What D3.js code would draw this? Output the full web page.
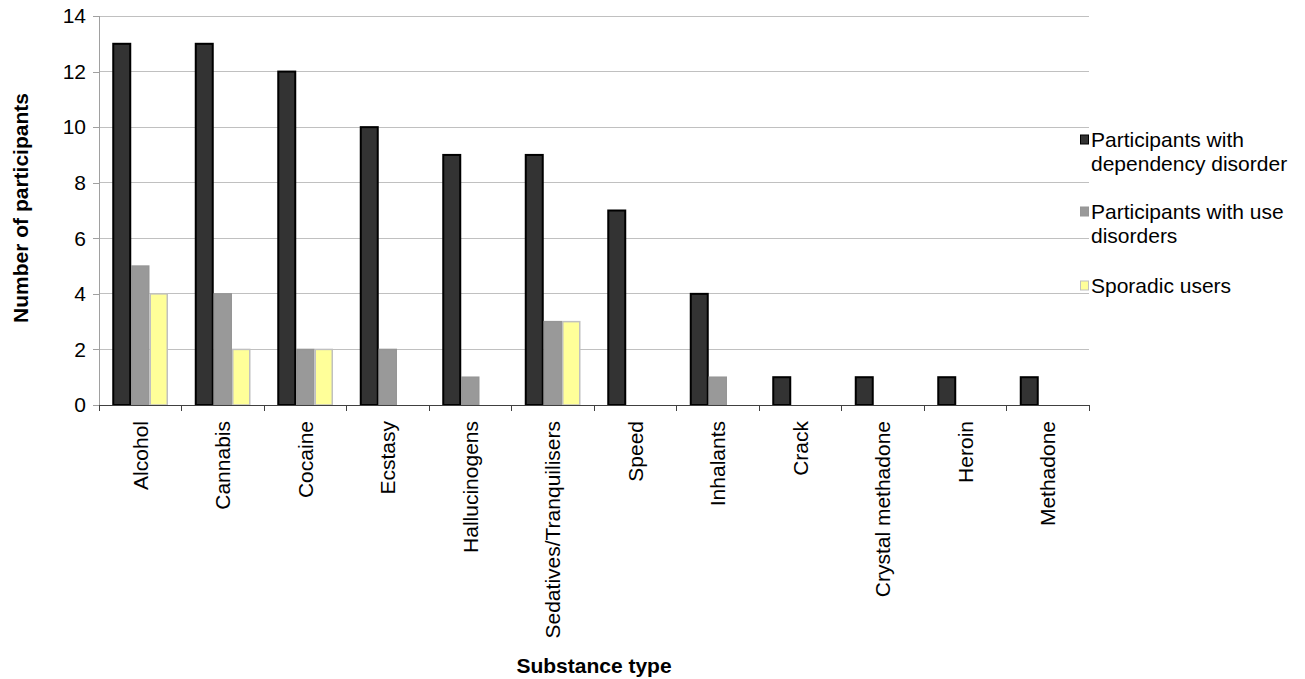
<!DOCTYPE html>
<html><head><meta charset="utf-8">
<script src="https://cdn.jsdelivr.net/npm/d3@7"></script>
<style>body{margin:0;background:#fff}svg{font-family:"Liberation Sans",Arial,sans-serif}</style>
</head><body>
<svg id="c" width="1305" height="679"></svg>
<script>
const categories = ["Alcohol","Cannabis","Cocaine","Ecstasy","Hallucinogens","Sedatives/Tranquilisers","Speed","Inhalants","Crack","Crystal methadone","Heroin","Methadone"];
const seriesNames = ["Participants with dependency disorder","Participants with use disorders","Sporadic users"];
const dependency = [13,13,12,10,9,9,7,4,1,1,1,1];
const useDisorder = [5,4,2,2,1,3,0,1,0,0,0,0];
const sporadic = [4,2,2,0,0,3,0,0,0,0,0,0];
const yTicks = [0,2,4,6,8,10,12,14];
const legendLines = [["Participants with","dependency disorder"],["Participants with use","disorders"],["Sporadic users"]];

const series = [dependency, useDisorder, sporadic];
const fills = ["#333333","#999999","#FFFF99"];
const strokes = ["#000000","#969696","#C0C0C0"];
const FS = 21;

const svg = d3.select("#c");
const L = 99, R = 1089, T = 16, B = 405;
const x0 = d3.scaleBand().domain(categories).range([L, R]).padding(0);
const x1 = d3.scaleBand().domain(d3.range(3)).range([13.5, 69]).padding(0);
const y = d3.scaleLinear().domain([0, 14]).range([B, T]);

// gridlines
svg.append("g").selectAll("line").data(yTicks.filter(d => d > 0)).join("line")
  .attr("x1", L).attr("x2", R).attr("y1", d => y(d)).attr("y2", d => y(d))
  .attr("stroke", "#c0c0c0").attr("stroke-width", 1).attr("shape-rendering", "crispEdges");

// y axis
const ya = svg.append("g").attr("transform", `translate(${L},0)`)
  .call(d3.axisLeft(y).tickValues(yTicks).tickSize(6).tickPadding(7).tickFormat(d3.format("d")));
ya.select(".domain").attr("stroke", "#a0a0a0").attr("shape-rendering", "crispEdges");
ya.selectAll(".tick line").attr("stroke", "#a0a0a0").attr("shape-rendering", "crispEdges");
ya.selectAll("text").attr("font-size", FS).attr("fill", "#000").attr("font-family", "Liberation Sans, Arial, sans-serif");

// bars
const groups = svg.append("g").selectAll("g").data(categories).join("g")
  .attr("transform", d => `translate(${x0(d)},0)`);
groups.selectAll("rect").data((c, i) => series.map((s, k) => ({k, v: s[i]})).filter(d => d.v > 0)).join("rect")
  .attr("x", d => x1(d.k) + 0.75)
  .attr("width", x1.bandwidth() - 1.5)
  .attr("y", d => y(d.v))
  .attr("height", d => y(0) - y(d.v))
  .attr("fill", d => fills[d.k])
  .attr("stroke", d => strokes[d.k])
  .attr("stroke-width", d => d.k === 0 ? 2 : 1.5);

// x axis
const xa = svg.append("g").attr("transform", `translate(0,${B})`);
xa.append("line").attr("x1", L).attr("x2", R).attr("y1", 0).attr("y2", 0)
  .attr("stroke", "#404040").attr("shape-rendering", "crispEdges");
const bounds = categories.map(c => x0(c)).concat([R]);
xa.selectAll("line.tk").data(bounds).join("line").attr("class", "tk")
  .attr("x1", d => d).attr("x2", d => d).attr("y1", 0).attr("y2", 6)
  .attr("stroke", "#404040").attr("shape-rendering", "crispEdges");
xa.selectAll("text").data(categories).join("text")
  .attr("transform", d => `translate(${x0(d) + x0.bandwidth()/2 + 7.5},${16}) rotate(-90)`)
  .attr("text-anchor", "end").attr("font-size", FS).attr("fill", "#000")
  .text(d => d);

// axis titles
svg.append("text").attr("transform", `translate(28,208) rotate(-90)`)
  .attr("text-anchor", "middle").attr("font-size", FS).attr("font-weight", "bold").text("Number of participants");
svg.append("text").attr("x", 594).attr("y", 673)
  .attr("text-anchor", "middle").attr("font-size", FS).attr("font-weight", "bold").text("Substance type");

// legend
const lg = svg.append("g");
const lyBase = [147, 219, 293];
seriesNames.forEach((n, k) => {
  lg.append("rect").attr("x", 1080.5).attr("y", lyBase[k] - 12).attr("width", 8).attr("height", 9)
    .attr("fill", fills[k]).attr("stroke", strokes[k]).attr("stroke-width", 1);
  legendLines[k].forEach((t, j) => {
    lg.append("text").attr("x", 1091).attr("y", lyBase[k] + j * 24)
      .attr("font-size", FS).attr("fill", "#000").text(t);
  });
});
</script>
</body></html>
